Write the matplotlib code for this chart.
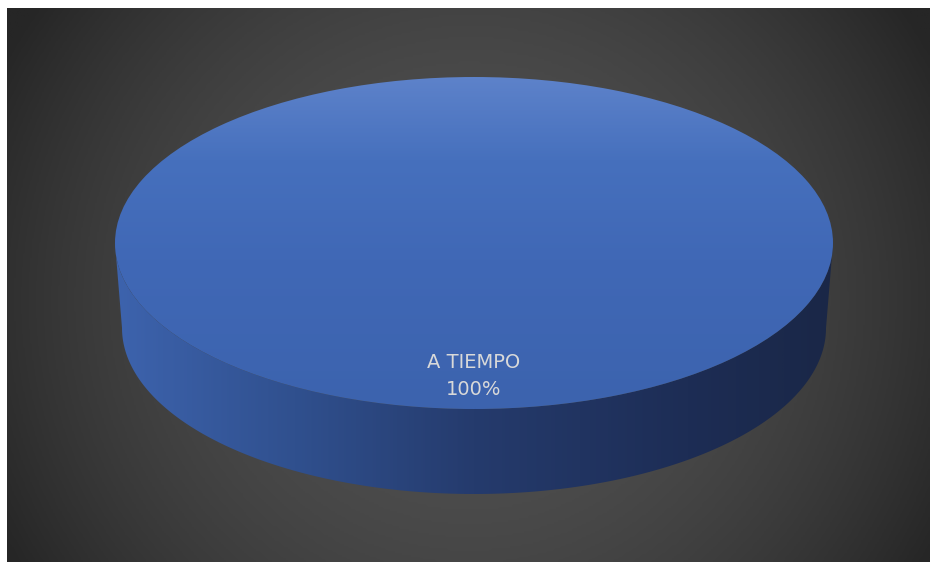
import numpy as np
import matplotlib.pyplot as plt
from matplotlib.patches import Wedge, Polygon
from matplotlib.transforms import Affine2D
from matplotlib.colors import LinearSegmentedColormap

# data
labels = ['A TIEMPO']
values = [100]

W, H = 931, 562
fig = plt.figure(figsize=(W / 100, H / 100), dpi=100)
fig.patch.set_facecolor('white')
ax = fig.add_axes([0, 0, 1, 1])
ax.set_xlim(0, W)
ax.set_ylim(0, H)
ax.axis('off')

# dark radial background (pixel box 7..930 x 8..562)
bx0, bx1, by0, by1 = 7, 930, 0, 554
gx, gy = np.meshgrid(np.linspace(bx0, bx1, 400), np.linspace(by0, by1, 250))
f = ((gx - 470) / 530) ** 2 + ((gy - 262) / 520) ** 2
bg_cmap = LinearSegmentedColormap.from_list('bg', ['#515151', '#262626'])
ax.imshow(np.clip(f, 0, 1), extent=(bx0, bx1, by0, by1), origin='lower',
          cmap=bg_cmap, vmin=0, vmax=1, aspect='auto', zorder=0)

# pie geometry
cx, cy = 474, 319      # top face centre
a, b = 359, 166        # top face semi-axes
depth = 85
a_bot = 352

# side wall (front half)
t = np.linspace(np.pi, 2 * np.pi, 200)
top_edge = np.column_stack([cx + a * np.cos(t), cy + b * np.sin(t)])
bot_edge = np.column_stack([cx + a_bot * np.cos(t[::-1]), cy - depth + b * np.sin(t[::-1])])
side = Polygon(np.vstack([top_edge, bot_edge]), closed=True, facecolor='none',
               edgecolor='none', zorder=2)
ax.add_patch(side)
side_cmap = LinearSegmentedColormap.from_list(
    'side', [(0, '#3d63ad'), (0.25, '#30508e'), (0.5, '#253b6d'),
             (0.8, '#1d2d55'), (1, '#1a2747')])
sx = np.linspace(0, 1, 300)[None, :]
im = ax.imshow(sx, extent=(cx - a, cx + a, cy - depth - b - 2, cy), origin='lower',
               cmap=side_cmap, aspect='auto', zorder=2)
im.set_clip_path(side)

# top face wedges from values
total = sum(values)
start = 90.0
top_cmap = LinearSegmentedColormap.from_list(
    'top', [(0, '#3c63ae'), (0.45, '#4068b6'), (0.75, '#4670bd'), (1, '#5d82ca')])
for lab, v in zip(labels, values):
    sweep = 360.0 * v / total
    tr = Affine2D().scale(a, b).translate(cx, cy) + ax.transData
    w = Wedge((0, 0), 1, start - sweep, start, facecolor='none', edgecolor='none',
              transform=tr, zorder=3)
    ax.add_patch(w)
    gy_top = np.linspace(0, 1, 300)[:, None]
    im2 = ax.imshow(gy_top, extent=(cx - a, cx + a, cy - b, cy + b), origin='lower',
                    cmap=top_cmap, aspect='auto', zorder=3)
    im2.set_clip_path(w)
    mid = np.deg2rad(start - sweep / 2)
    lx = cx + 0.8 * a * np.cos(mid)
    ly = cy + 0.8 * b * np.sin(mid)
    ax.text(lx, ly, f'{lab}\n{v / total:.0%}', ha='center', va='center',
            color='#d9d9d9', fontsize=14, linespacing=1.5, zorder=5)
    start -= sweep

fig.savefig('out.png', dpi=100, facecolor=fig.get_facecolor())
